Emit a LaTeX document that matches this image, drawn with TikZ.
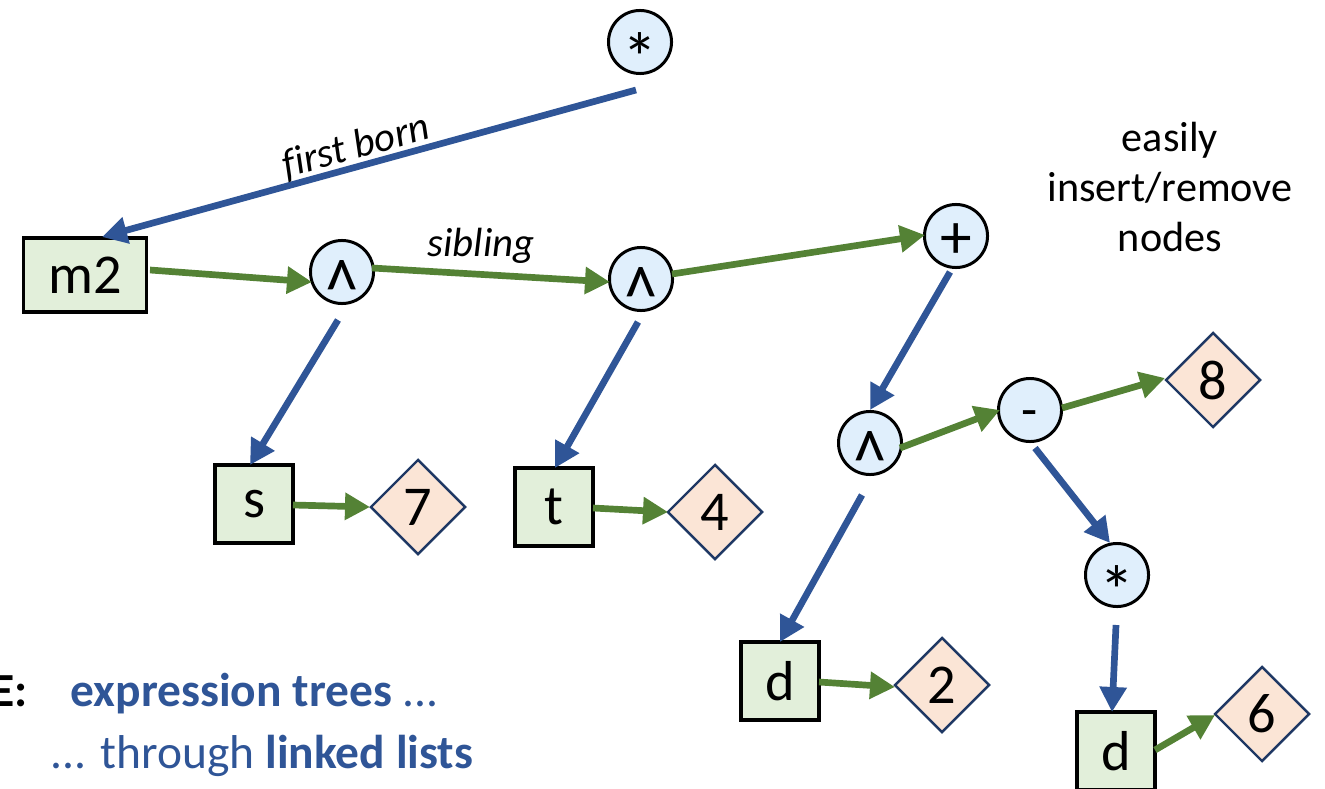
\documentclass[tikz,border=0pt]{standalone}
\usepackage{fontspec}
\setmainfont{Carlito}
\usetikzlibrary{arrows.meta,shapes.geometric,calc}

\definecolor{linkblue}{HTML}{2F5597}
\definecolor{sibgreen}{HTML}{548235}
\definecolor{opfill}{HTML}{E0EFFC}
\definecolor{leaffill}{HTML}{E2EFDA}
\definecolor{valfill}{HTML}{FBE5D6}
\definecolor{valedge}{HTML}{1F3864}

% operator glyph, set in a zero-size box and lowered onto the circle centre
\newcommand{\opglyph}[3]{\raisebox{#1}[0pt][0pt]{\fontsize{#2}{#2}\selectfont #3}}
\newcommand{\caretop}{\opglyph{-12.8pt}{20}{\scalebox{0.95}[1.2]{\textasciicircum}}}
\newcommand{\starop}{\opglyph{-11.5pt}{20}{*}}
\newcommand{\plusop}{\opglyph{-6.3pt}{18}{+}}
\newcommand{\minusop}{\opglyph{-5pt}{15}{-}}

\begin{document}
\begin{tikzpicture}[x=0.01cm,y=-0.01cm,
  op/.style={circle, draw=black, line width=0.85pt, fill=opfill,
    minimum size=0.63cm, inner sep=0pt},
  leaf/.style={rectangle, draw=black, line width=0.9pt, fill=leaffill,
    minimum width=0.78cm, minimum height=0.78cm, inner sep=0pt,
    font=\fontsize{16}{18}\selectfont},
  val/.style={diamond, aspect=1, draw=valedge, line width=0.7pt, fill=valfill,
    minimum width=0.95cm, minimum height=0.95cm, inner sep=0pt,
    font=\fontsize{16}{18}\selectfont},
  child/.style={draw=linkblue, line width=1.9pt,
    -{Triangle[length=0.25cm,width=0.26cm]}},
  sib/.style={draw=sibgreen, line width=1.9pt,
    -{Triangle[length=0.25cm,width=0.26cm]}},
  lbl/.style={font=\fontsize{11.6}{13}\selectfont\itshape, inner sep=0pt},
  note/.style={font=\fontsize{12}{14.2}\selectfont, align=center, inner sep=0pt},
  caption/.style={font=\fontsize{13.5}{16}\selectfont, text=linkblue, inner sep=0pt}
]
\useasboundingbox (0,0) rectangle (1325,788);
\clip (0,0) rectangle (1325,788);

% operator nodes
\node[op] (star)  at (640,42)  {\starop};
\node[op] (c1)    at (342,272) {\caretop};
\node[op] (c2)    at (641,279) {\caretop};
\node[op] (plus)  at (956,236) {\plusop};
\node[op] (c3)    at (870,443) {\caretop};
\node[op] (minus) at (1030,410) {\minusop};
\node[op] (star2) at (1117,575) {\starop};

% variables
\node[leaf, minimum width=1.23cm, minimum height=0.74cm] (m2) at (85,275) {m2};
\node[leaf] (s)  at (254,504) {s};
\node[leaf] (t)  at (554,507) {t};
\node[leaf] (d1) at (780,681) {d};
\node[leaf] (d2) at (1116,751) {d};

% constants
\node[val] (n7) at (418,507) {7};
\node[val] (n4) at (715,512) {4};
\node[val] (n8) at (1213,380) {8};
\node[val] (n2) at (942,685) {2};
\node[val] (n6) at (1262,714) {6};

% first-born links
\draw[child] ($(star)+(-4,48)$) -- ($(m2)+(17,-38)$);
\draw[child] ($(c1)+(-4,48)$) -- ($(s)+(-4,-39)$);
\draw[child] ($(c2)+(-3,43)$) -- ($(t)+(1,-39)$);
\draw[child] ($(plus)+(-6,36)$) -- ($(c3)+(0,-33)$);
\draw[child] ($(minus)+(5,38)$) -- ($(star2)+(-7,-32)$);
\draw[child] ($(star2)+(-1,50)$) -- ($(d2)+(-4,-39)$);
\draw[child] ($(c3)+(-8,52)$) -- ($(d1)+(0,-39)$);

% sibling links
\draw[sib] ($(m2)+(65,-5)$) -- ($(c1)+(-30,10)$);
\draw[sib] ($(c1)+(30,-4)$) -- ($(c2)+(-31,3)$);
\draw[sib] ($(c2)+(31,-5)$) -- ($(plus)+(-31,-1)$);
\draw[sib] ($(s)+(39,1)$) -- ($(n7)+(-48,0)$);
\draw[sib] ($(t)+(39,1)$) -- ($(n4)+(-47,0)$);
\draw[sib] ($(c3)+(30,5)$) -- ($(minus)+(-30,0)$);
\draw[sib] ($(minus)+(32,-2)$) -- ($(n8)+(-48,-2)$);
\draw[sib] ($(d2)+(39,-1)$) -- ($(n6)+(-47,1)$);
\draw[sib] ($(d1)+(39,1)$) -- ($(n2)+(-47,2)$);

% link labels
\node[lbl, rotate=15.3] (fb) at (356,147) {f\kern0pt irst born};
\node[lbl] (sb) at (481,246) {sibling};

% side note
\node[note] (ease) at (1170,187) {easily\\insert/remove\\nodes};

% caption
\node[caption, anchor=base east, text=black, font=\fontsize{13.5}{16}\selectfont\bfseries] (cut) at (28,706) {E:};
\node[caption, anchor=base west] (cap1) at (70,706) {\textbf{expression trees} ...};
\node[caption, anchor=base west] (cap2) at (50,768) {... through \textbf{linked lists}};
\end{tikzpicture}
\end{document}
